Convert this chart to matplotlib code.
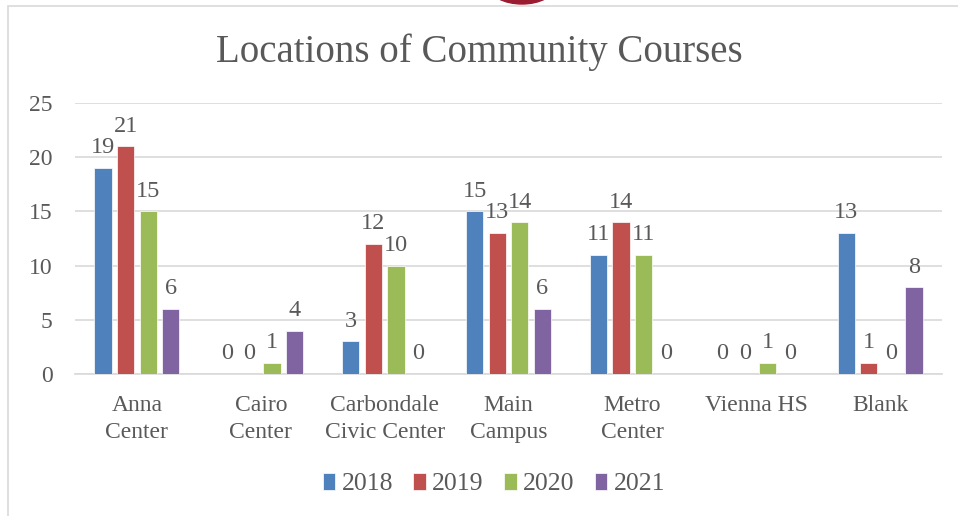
#!/usr/bin/env python3
"""Grouped bar chart: locations of community courses by year."""

import matplotlib.pyplot as plt
import numpy as np
from matplotlib.patches import Ellipse, Rectangle

locations = [
    "Anna\nCenter",
    "Cairo\nCenter",
    "Carbondale\nCivic Center",
    "Main\nCampus",
    "Metro\nCenter",
    "Vienna HS",
    "Blank",
]
years = ["2018", "2019", "2020", "2021"]
counts_2018 = [19, 0, 3, 15, 11, 0, 13]
counts_2019 = [21, 0, 12, 13, 14, 0, 1]
counts_2020 = [15, 1, 10, 14, 11, 1, 0]
counts_2021 = [6, 4, 0, 6, 0, 0, 8]

COLORS = ["#4F81BD", "#C0504D", "#9BBB59", "#8064A2"]
TEXT = "#595959"
GRID = "#D9D9D9"
FONT = ["Liberation Serif", "DejaVu Serif"]


def main():
    plt.rcParams["font.family"] = FONT
    W, H = 958, 516
    fig = plt.figure(figsize=(W / 100, H / 100), dpi=100)
    fig.patch.set_facecolor("white")

    ax = fig.add_axes([75 / W, 1 - 374 / H, 867 / W, 271 / H])

    series = [counts_2018, counts_2019, counts_2020, counts_2021]
    x = np.arange(len(locations))
    width = 0.14
    step = 0.182
    for i, (vals, year, color) in enumerate(zip(series, years, COLORS)):
        bars = ax.bar(
            x + (i - 1.5) * step,
            vals,
            width,
            color=color,
            edgecolor="white",
            linewidth=0.5,
            label=year,
            zorder=3,
        )
        ax.bar_label(bars, padding=7, fontsize=17.5, color=TEXT)

    ax.set_xlim(-0.5, len(locations) - 0.5)
    ax.set_ylim(0, 25)
    ax.set_yticks(range(0, 26, 5))
    ax.set_xticks(x)
    ax.set_xticklabels(locations, fontsize=17, color=TEXT, linespacing=1.4)
    ax.tick_params(axis="x", length=0, pad=15)
    ax.tick_params(axis="y", length=0, pad=16, labelsize=17, labelcolor=TEXT)
    ax.grid(axis="y", color=GRID, linewidth=1.2, zorder=0)
    for side in ("top", "right", "left"):
        ax.spines[side].set_visible(False)
    ax.spines["bottom"].set_color(GRID)
    ax.spines["bottom"].set_linewidth(1.2)

    fig.text(0.5, 1 - 52 / H, "Locations of Community Courses",
             ha="center", va="center", fontsize=28, color=TEXT)

    fig.legend(
        loc="center",
        bbox_to_anchor=(494 / W, 32 / H),
        ncol=4,
        frameon=False,
        fontsize=18.5,
        labelcolor=TEXT,
        handlelength=0.48,
        handleheight=0.65,
        handletextpad=0.25,
        columnspacing=0.8,
    )

    # chart frame and the cut-off logo above it
    fig.add_artist(Rectangle((8 / W, -0.1), 1.2, 1.1 - 6 / H,
                             transform=fig.transFigure, fill=False,
                             edgecolor=GRID, linewidth=1.2))
    fig.add_artist(Ellipse((522 / W, 1 + 14 / H), 66 / W, 36 / H,
                           transform=fig.transFigure, color="#9B1B30"))

    fig.savefig("out.png", dpi=100, facecolor="white")
    plt.close(fig)


if __name__ == "__main__":
    main()
